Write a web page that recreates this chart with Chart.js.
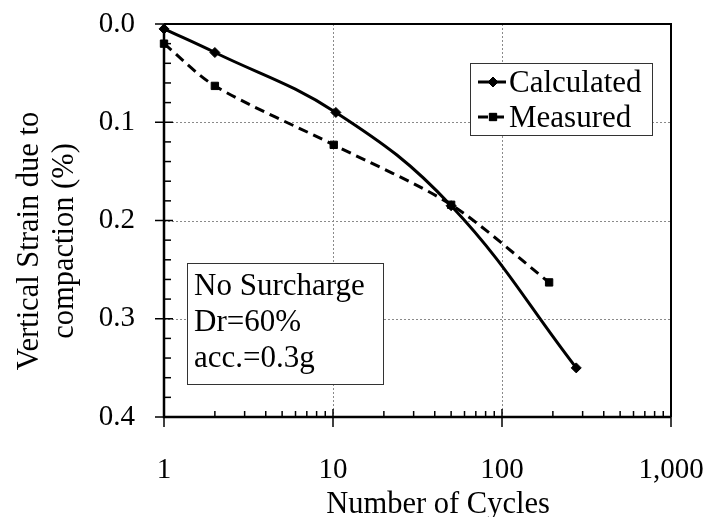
<!DOCTYPE html>
<html><head><meta charset="utf-8">
<script src="https://cdn.jsdelivr.net/npm/chart.js@4"></script>
<style>html,body{margin:0;padding:0;background:#fff}</style>
</head><body>
<canvas id="c" width="710" height="517"></canvas>
<script>
// ---- data ----
const calcCycles = [1, 2, 10.4, 50, 275];
const calcStrain = [0.005, 0.029, 0.090, 0.185, 0.350];
const measCycles = [1, 2, 10.1, 50, 190];
const measStrain = [0.020, 0.063, 0.123, 0.184, 0.263];
const xTickValues = [1, 10, 100, 1000];
const xTickLabels = ['1', '10', '100', '1,000'];
const yTickValues = [0, 0.1, 0.2, 0.3, 0.4];
const yTickLabels = ['0.0', '0.1', '0.2', '0.3', '0.4'];
const seriesNames = ['Calculated', 'Measured'];
const xTitle = 'Number of Cycles';
const yTitleLines = ['Vertical Strain due to', 'compaction (%)'];
const noteLines = ['No Surcharge', 'Dr=60%', 'acc.=0.3g'];

const FONT = "'Liberation Serif', 'Times New Roman', serif";
const FS = 29;      // tick labels
const FS_T = 30.5;  // axis titles
const FS_B = 31;    // legend & note
Chart.defaults.font.family = FONT;
Chart.defaults.color = '#000';

const toPts = (xs, ys) => xs.map((x, i) => ({x: x, y: ys[i]}));
const zeroPad = s => { s.paddingTop = 0; s.paddingBottom = 0; s.paddingLeft = 0; s.paddingRight = 0; };

const framePlugin = {
  id: 'frame',
  beforeDatasetsDraw(chart) {
    const {ctx, chartArea: a, scales: {x, y}} = chart;
    ctx.save();
    // grid
    ctx.strokeStyle = '#8a8a8a';
    ctx.lineWidth = 1;
    ctx.setLineDash([2, 2]);
    yTickValues.forEach((v, i) => {
      if (i === 0 || i === yTickValues.length - 1) return;
      const py = Math.round(y.getPixelForValue(v)) + 0.5;
      ctx.beginPath(); ctx.moveTo(a.left, py); ctx.lineTo(a.right, py); ctx.stroke();
    });
    xTickValues.forEach((v, i) => {
      if (i === 0 || i === xTickValues.length - 1) return;
      const px = Math.round(x.getPixelForValue(v)) + 0.5;
      ctx.beginPath(); ctx.moveTo(px, a.top); ctx.lineTo(px, a.bottom); ctx.stroke();
    });
    ctx.setLineDash([]);
    ctx.strokeStyle = '#000';
    // frame top/right
    ctx.lineWidth = 2;
    ctx.beginPath();
    ctx.moveTo(a.left, a.top); ctx.lineTo(a.right, a.top); ctx.lineTo(a.right, a.bottom);
    ctx.stroke();
    // axes
    ctx.lineWidth = 2.5;
    ctx.beginPath();
    ctx.moveTo(a.left, a.top); ctx.lineTo(a.left, a.bottom); ctx.lineTo(a.right, a.bottom);
    ctx.stroke();
    // y ticks
    ctx.lineWidth = 1.5;
    yTickValues.forEach(v => {
      const py = y.getPixelForValue(v);
      ctx.beginPath(); ctx.moveTo(a.left - 9, py); ctx.lineTo(a.left + 9, py); ctx.stroke();
    });
    for (let i = 1; i < 20; i++) {
      if (i % 5 === 0) continue;
      const py = y.getPixelForValue(i * 0.02);
      ctx.beginPath(); ctx.moveTo(a.left, py); ctx.lineTo(a.left + 7, py); ctx.stroke();
    }
    // x ticks
    xTickValues.forEach(v => {
      const px = x.getPixelForValue(v);
      ctx.beginPath(); ctx.moveTo(px, a.bottom - 8); ctx.lineTo(px, a.bottom + 10); ctx.stroke();
    });
    [1, 10, 100].forEach(d => {
      for (let k = 2; k <= 9; k++) {
        const px = x.getPixelForValue(k * d);
        ctx.beginPath(); ctx.moveTo(px, a.bottom); ctx.lineTo(px, a.bottom - 6); ctx.stroke();
      }
    });
    ctx.restore();
  },
  afterDatasetsDraw(chart) {
    const {ctx, chartArea: a} = chart;
    ctx.save();
    ctx.textBaseline = 'alphabetic';
    ctx.font = FS_B + 'px ' + FONT;
    // legend box
    const lx = a.left + 306, ly = a.top + 39, lw = 182, lh = 72;
    ctx.fillStyle = '#fff';
    ctx.fillRect(lx, ly, lw, lh);
    ctx.strokeStyle = '#333';
    ctx.lineWidth = 1;
    ctx.strokeRect(lx + 0.5, ly + 0.5, lw, lh);
    const ds = chart.data.datasets;
    const rows = [ly + 19, ly + 54];
    ds.forEach((d, i) => {
      const ry = rows[i];
      ctx.strokeStyle = '#000';
      ctx.lineWidth = d.borderWidth;
      ctx.setLineDash(d.borderDash || []);
      ctx.beginPath(); ctx.moveTo(lx + 8, ry); ctx.lineTo(lx + 36, ry); ctx.stroke();
      ctx.setLineDash([]);
      ctx.lineWidth = 1;
      Chart.helpers.drawPoint(ctx, {pointStyle: d.pointStyle, radius: d.pointRadius, borderWidth: 1}, lx + 23, ry);
      ctx.fillStyle = '#000';
      ctx.fill();
      ctx.textAlign = 'left';
      ctx.fillText(d.label, lx + 39, ry + 10);
    });
    // note box
    const nx = a.left + 23, ny = a.top + 239, nw = 196, nh = 121;
    ctx.fillStyle = '#fff';
    ctx.fillRect(nx, ny, nw, nh);
    ctx.strokeStyle = '#333';
    ctx.lineWidth = 1;
    ctx.strokeRect(nx + 0.5, ny + 0.5, nw, nh);
    ctx.fillStyle = '#000';
    ctx.textAlign = 'left';
    noteLines.forEach((t, i) => ctx.fillText(t, nx + 7, ny + 32 + i * 36));
    // axis titles
    ctx.font = FS_T + 'px ' + FONT;
    ctx.textAlign = 'center';
    ctx.fillText(xTitle, a.left + 274, 513);
    ctx.save();
    ctx.translate(0, a.top + 217);
    ctx.rotate(-Math.PI / 2);
    ctx.fillText(yTitleLines[0], 0, 38);
    ctx.fillText(yTitleLines[1], 0, 73);
    ctx.restore();
    ctx.restore();
  }
};

new Chart(document.getElementById('c'), {
  type: 'line',
  data: {
    datasets: [
      {label: seriesNames[0], data: toPts(calcCycles, calcStrain), borderColor: '#000', backgroundColor: '#000',
       borderWidth: 3, pointStyle: 'rectRot', pointRadius: 5, pointBorderWidth: 1, tension: 0.4, clip: false},
      {label: seriesNames[1], data: toPts(measCycles, measStrain), borderColor: '#000', backgroundColor: '#000',
       borderWidth: 3, borderDash: [10, 6], pointStyle: 'rect', pointRadius: 5.2, pointBorderWidth: 1, tension: 0.3, clip: false}
    ]
  },
  options: {
    responsive: false,
    animation: false,
    devicePixelRatio: 1,
    layout: {padding: {top: 24, right: 39, left: 0, bottom: 0}},
    plugins: {legend: {display: false}, tooltip: {enabled: false}},
    scales: {
      x: {
        type: 'logarithmic', min: 1, max: 1000,
        grid: {display: false, drawTicks: false},
        border: {display: false},
        afterBuildTicks: s => { s.ticks = xTickValues.map(v => ({value: v})); },
        afterFit: s => { s.height = 100; zeroPad(s); },
        ticks: {autoSkip: false, maxRotation: 0, padding: 36, font: {size: FS},
                callback: (v, i) => xTickLabels[i]}
      },
      y: {
        type: 'linear', min: 0, max: 0.4, reverse: true,
        grid: {display: false, drawTicks: false},
        border: {display: false},
        afterBuildTicks: s => { s.ticks = yTickValues.map(v => ({value: v})); },
        afterFit: s => { s.width = 164; zeroPad(s); },
        ticks: {autoSkip: false, padding: 29, font: {size: FS},
                callback: (v, i) => yTickLabels[i]}
      }
    }
  },
  plugins: [framePlugin]
});
</script>
</body></html>
